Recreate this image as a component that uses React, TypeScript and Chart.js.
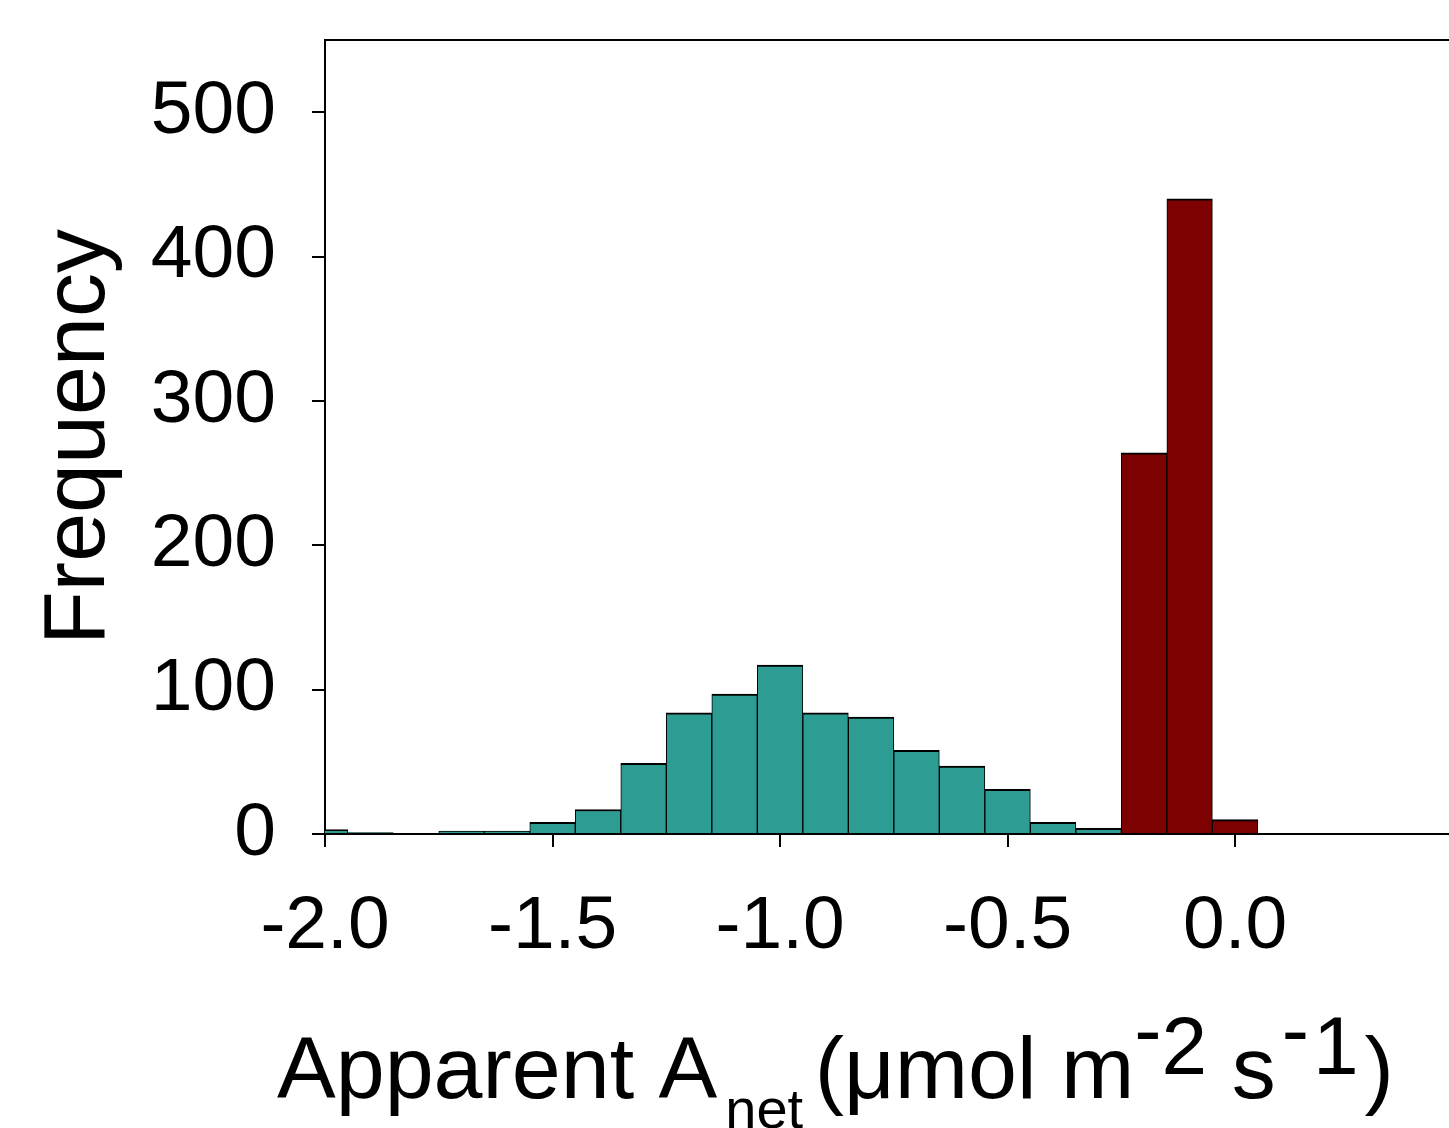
import React, { useEffect, useRef } from 'react';
import { Chart, registerables } from 'chart.js';

Chart.register(...registerables);

// ---- data ----
const TEAL_BIN_CENTERS = [-2.0, -1.9, -1.8, -1.7, -1.6, -1.5, -1.4, -1.3, -1.2, -1.1, -1.0, -0.9, -0.8, -0.7, -0.6, -0.5, -0.4, -0.3];
const TEAL_COUNTS = [3, 1, 0, 2, 2, 8, 17, 49, 84, 97, 117, 84, 81, 58, 47, 31, 8, 4];
const RED_BIN_CENTERS = [-0.2, -0.1, 0.0];
const RED_COUNTS = [264, 440, 10];
const X_TICKS = [-2.0, -1.5, -1.0, -0.5, 0.0];
const Y_TICKS = [0, 100, 200, 300, 400, 500];
const X_MIN = -2.0;
const X_MAX = 0.47;
const Y_MAX = 550;
const Y_TITLE = 'Frequency';
const X_TITLE_PARTS = [
  { text: 'Apparent A', kind: 'main', gap: 0 },
  { text: 'net ', kind: 'sub', gap: 8 },
  { text: '(μmol m', kind: 'main', gap: -4 },
  { text: '-', kind: 'supMinus', gap: 0 },
  { text: '2', kind: 'sup', gap: 0 },
  { text: ' s', kind: 'main', gap: 0 },
  { text: '-', kind: 'supMinus', gap: 6 },
  { text: '1', kind: 'sup', gap: 4 },
  { text: ')', kind: 'main', gap: 6 },
];

const FONT = '"Liberation Sans", Arial, Helvetica, sans-serif';
const TEAL = '#2d9d94';
const RED = '#7e0101';

const STYLE: Record<string, { size: number; dy: number }> = {
  main: { size: 88, dy: 0 },
  sub: { size: 56, dy: 30 },
  supMinus: { size: 82, dy: -40 },
  sup: { size: 82, dy: -24 },
};

const bgPlugin = {
  id: 'bg',
  beforeDraw(chart: any) {
    const { ctx, width, height } = chart;
    ctx.save();
    ctx.fillStyle = '#ffffff';
    ctx.fillRect(0, 0, width, height);
    ctx.restore();
  },
};

const frameAndTitlePlugin = {
  id: 'frameAndTitle',
  afterDraw(chart: any) {
    const { ctx, chartArea } = chart;
    ctx.save();
    // top frame line
    ctx.strokeStyle = '#000';
    ctx.lineWidth = 2;
    ctx.beginPath();
    ctx.moveTo(chartArea.left, chartArea.top);
    ctx.lineTo(chartArea.right, chartArea.top);
    ctx.stroke();

    // x-axis title with subscript / superscripts
    ctx.fillStyle = '#000';
    ctx.textBaseline = 'alphabetic';
    ctx.textAlign = 'left';
    const baseline = chartArea.bottom + 264;
    let x = 277;
    X_TITLE_PARTS.forEach((p) => {
      const st = STYLE[p.kind];
      x += p.gap;
      ctx.font = `${st.size}px ${FONT}`;
      ctx.fillText(p.text, x, baseline + st.dy);
      x += ctx.measureText(p.text).width;
    });
    ctx.restore();
  },
};

export default function App() {
  const ref = useRef<HTMLCanvasElement | null>(null);

  useEffect(() => {
    document.body.style.margin = '0';
    const canvas = ref.current;
    if (!canvas) return;
    const tickFont = { family: FONT, size: 75 };
    const gridOpts = {
      offset: false,
      drawOnChartArea: false,
      drawTicks: true,
      tickLength: 13,
      tickWidth: 2,
      tickColor: '#000',
      color: '#000',
      lineWidth: 2,
    };
    const barStyle = {
      borderColor: '#000',
      borderWidth: { top: 2, left: 1, right: 1, bottom: 0 },
      barPercentage: 1,
      categoryPercentage: 1,
      grouped: false,
      clip: 0,
    };
    const chart = new Chart(canvas, {
      type: 'bar',
      data: {
        datasets: [
          {
            data: TEAL_BIN_CENTERS.map((x, i) => ({ x, y: TEAL_COUNTS[i] })),
            backgroundColor: TEAL,
            ...barStyle,
          } as any,
          {
            data: RED_BIN_CENTERS.map((x, i) => ({ x, y: RED_COUNTS[i] })),
            backgroundColor: RED,
            ...barStyle,
          } as any,
        ],
      },
      options: {
        animation: false,
        responsive: false,
        devicePixelRatio: 1,
        layout: { padding: { top: 40, right: 0, left: 0, bottom: 0 } },
        plugins: { legend: { display: false }, tooltip: { enabled: false } },
        scales: {
          x: {
            type: 'linear',
            offset: false,
            min: X_MIN,
            max: X_MAX,
            afterBuildTicks: (s: any) => {
              s.ticks = X_TICKS.map((v) => ({ value: v }));
            },
            afterFit: (s: any) => {
              s.height = 294;
              s.paddingLeft = 0;
              s.paddingRight = 0;
            },
            ticks: {
              font: tickFont,
              color: '#000',
              padding: 35,
              maxRotation: 0,
              autoSkip: false,
              callback: (v: any) => Number(v).toFixed(1),
            },
            grid: gridOpts,
            border: { display: true, color: '#000', width: 2 },
          },
          y: {
            type: 'linear',
            offset: false,
            min: 0,
            max: Y_MAX,
            afterBuildTicks: (s: any) => {
              s.ticks = Y_TICKS.map((v) => ({ value: v }));
            },
            afterFit: (s: any) => {
              s.width = 325;
              s.paddingTop = 0;
              s.paddingBottom = 0;
            },
            ticks: {
              font: tickFont,
              color: '#000',
              padding: 36,
              autoSkip: false,
              callback: (v: any) => String(v),
            },
            grid: gridOpts,
            border: { display: true, color: '#000', width: 2 },
            title: {
              display: true,
              text: Y_TITLE,
              color: '#000',
              font: { family: FONT, size: 88 },
              padding: { top: 27, bottom: 0 },
            },
          },
        },
      } as any,
      plugins: [bgPlugin, frameAndTitlePlugin],
    });
    return () => chart.destroy();
  }, []);

  return (
    <div style={{ width: 1449, height: 1128, position: 'relative' }}>
      <canvas ref={ref} width={1449} height={1128} style={{ display: 'block' }} />
    </div>
  );
}
